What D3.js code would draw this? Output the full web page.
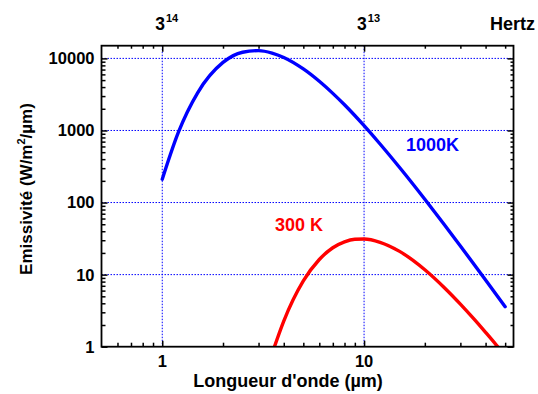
<!DOCTYPE html>
<meta charset="utf-8">
<html>
<head>
<style>
  body { margin: 0; background: #fff; }
  text { font-family: Arial, "Liberation Sans", sans-serif; font-weight: bold; }
</style>
</head>
<body>
<div id="chart"></div>
<script src="https://d3js.org/d3.v7.min.js"></script>
<script>
// wavelengths (µm) and emissivity (W/m2/µm)
var lambda1000 = [1, 1.2, 1.5, 2, 2.5, 3, 3.5, 4, 5, 6, 7, 8, 10, 12, 15, 20, 25, 30, 40, 50];
var emis1000   = [211, 933, 3360, 8790, 12170, 12830, 11870, 10300, 7140, 4810, 3270, 2270, 1164, 649, 306, 111, 49.2, 25.0, 8.44, 3.59];

var lambda300 = [3.5, 4, 5, 6, 7, 8, 9, 10, 12, 15, 20, 25, 30, 35, 40, 45, 50];
var emis300   = [0.80, 2.27, 8.18, 16.2, 23.6, 28.5, 30.9, 31.2, 28.1, 21.0, 11.7, 6.59, 3.90, 2.43, 1.58, 1.07, 0.74];

var xMajor = [1, 10];
var xMinor = [0.6, 0.7, 0.8, 0.9, 2, 3, 4, 5, 6, 7, 8, 9, 20, 30, 40, 50];
var yMajor = [1, 10, 100, 1000, 10000];
var topLabels = [["3", "14"], ["3", "13"]];

var W = 538, H = 394;
var pL = 101.5, pR = 513.5, pT = 45.7, pB = 346.7;

var svg = d3.select("#chart").append("svg")
  .attr("width", W).attr("height", H);

var x = d3.scaleLog().domain([0.5, 55]).range([pL, pR]);
var y = d3.scaleLog().domain([1, 15000]).range([pB, pT]);

var yMinor = [];
yMajor.forEach(function (d) {
  for (var k = 2; k <= 9; k++) { if (d * k < 15000) yMinor.push(d * k); }
});

// grid
var grid = svg.append("g")
  .attr("stroke", "#0000ff").attr("stroke-width", 1)
  .attr("stroke-dasharray", "1.5,1.5");
xMajor.forEach(function (d) {
  grid.append("line").attr("x1", x(d)).attr("x2", x(d)).attr("y1", pT).attr("y2", pB);
});
yMajor.slice(1).forEach(function (d) {
  grid.append("line").attr("x1", pL).attr("x2", pR).attr("y1", y(d)).attr("y2", y(d));
});

// curves
svg.append("clipPath").attr("id", "clip")
  .append("rect").attr("x", pL).attr("y", pT)
  .attr("width", pR - pL).attr("height", pB - pT);

var line = d3.line()
  .x(function (d) { return x(d[0]); })
  .y(function (d) { return y(d[1]); })
  .curve(d3.curveMonotoneX);

svg.append("path")
  .datum(d3.zip(lambda1000, emis1000))
  .attr("d", line).attr("fill", "none")
  .attr("stroke", "#0000ff").attr("stroke-width", 3.4)
  .attr("stroke-linecap", "round")
  .attr("clip-path", "url(#clip)");

svg.append("path")
  .datum(d3.zip(lambda300, emis300))
  .attr("d", line).attr("fill", "none")
  .attr("stroke", "#ff0000").attr("stroke-width", 3.4)
  .attr("clip-path", "url(#clip)");

// axes with inward ticks on all four sides
function ticks(axis, vals, size, pos) {
  svg.append("g")
    .attr("transform", pos)
    .call(axis.tickValues(vals).tickSize(-size).tickFormat(""))
    .call(function (g) { g.select(".domain").remove(); })
    .selectAll("line").attr("stroke", "#000").attr("stroke-width", 1.5);
}
ticks(d3.axisBottom(x), xMajor, 6, "translate(0," + pB + ")");
ticks(d3.axisBottom(x), xMinor, 4, "translate(0," + pB + ")");
ticks(d3.axisTop(x), xMajor, 6, "translate(0," + pT + ")");
ticks(d3.axisTop(x), xMinor, 3, "translate(0," + pT + ")");
ticks(d3.axisLeft(y), yMajor, 6, "translate(" + pL + ",0)");
ticks(d3.axisLeft(y), yMinor, 4, "translate(" + pL + ",0)");
ticks(d3.axisRight(y), yMajor, 6, "translate(" + pR + ",0)");
ticks(d3.axisRight(y), yMinor, 3, "translate(" + pR + ",0)");

svg.append("rect")
  .attr("x", pL).attr("y", pT)
  .attr("width", pR - pL).attr("height", pB - pT)
  .attr("fill", "none").attr("stroke", "#000").attr("stroke-width", 1.8);

// tick labels
svg.selectAll(".xl").data(xMajor).enter().append("text")
  .attr("x", function (d) { return x(d); }).attr("y", 367)
  .attr("text-anchor", "middle").attr("font-size", 16.5)
  .text(function (d) { return d; });

svg.selectAll(".yl").data(yMajor).enter().append("text")
  .attr("x", 94.5).attr("y", function (d) { return y(d); })
  .attr("dy", "0.36em")
  .attr("text-anchor", "end").attr("font-size", 16.5)
  .text(function (d) { return d; });

// top frequency labels
topLabels.forEach(function (t, i) {
  var tx = svg.append("text")
    .attr("x", x(xMajor[i]) - 7).attr("y", 30)
    .attr("font-size", 17.5);
  tx.append("tspan").text(t[0]);
  tx.append("tspan").attr("font-size", 11).attr("dy", -8).attr("dx", 1).text(t[1]);
});
svg.append("text").attr("x", 535).attr("y", 30)
  .attr("text-anchor", "end").attr("font-size", 18).text("Hertz");

// axis titles
svg.append("text").attr("x", 288).attr("y", 387)
  .attr("text-anchor", "middle").attr("font-size", 18)
  .text("Longueur d'onde (µm)");

var yt = svg.append("text")
  .attr("transform", "translate(31.5,189) rotate(-90)")
  .attr("text-anchor", "middle").attr("font-size", 17);
yt.append("tspan").text("Emissivité (W/m");
yt.append("tspan").attr("font-size", 11).attr("dy", -7).text("2");
yt.append("tspan").attr("dy", 7).text("/µm)");

// curve labels
svg.append("text").attr("x", 406).attr("y", 151)
  .attr("fill", "#0000ff").attr("font-size", 18).text("1000K");
svg.append("text").attr("x", 275).attr("y", 231)
  .attr("fill", "#ff0000").attr("font-size", 18).text("300 K");
</script>
</body>
</html>
